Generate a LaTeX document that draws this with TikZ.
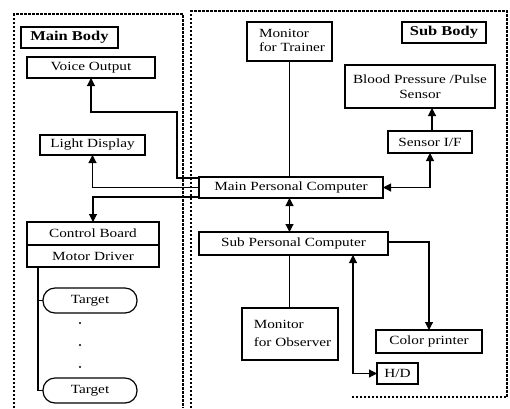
\documentclass[tikz,border=0pt]{standalone}
\usepackage{fontspec}
\setmainfont{Liberation Serif}[FakeStretch=1.22]
\usetikzlibrary{arrows.meta}
\begin{document}
\begin{tikzpicture}[x=1pt,y=-1pt,
  box/.style={draw,line width=1.2pt,inner sep=0pt,outer sep=0pt,anchor=north west,font=\fontsize{12.5}{15}\selectfont,align=center},
  title/.style={draw,line width=2pt,inner sep=0pt,outer sep=0pt,anchor=north west,font=\fontsize{13.5}{16}\selectfont\bfseries},
  tgt/.style={box,rounded corners=12pt},
  region/.style={line width=1.2pt,dash pattern=on 2.5pt off 1.5pt},
  conn/.style={line width=1.1pt},
  arr/.style={conn,-{Triangle[length=8pt,width=8pt]}},
  arrr/.style={conn,{Triangle[length=8pt,width=8pt]}-{Triangle[length=8pt,width=8pt]}},
  dot/.style={circle,fill,inner sep=0pt,minimum size=2.2pt}]
\useasboundingbox (0,0) rectangle (510,408);
% regions
\draw[region] (14,408) -- (14,14) -- (183,14) -- (183,408);
\draw[region] (191,408) -- (191,11) -- (507,11) -- (507,397) -- (350,397);
% Main body
\node[title,minimum width=97,minimum height=21] (mb) at (21,27) {Main Body};
\node[box,minimum width=128,minimum height=21] (vo) at (27,57) {Voice Output};
\node[box,minimum width=105,minimum height=20] (ld) at (40,135) {Light Display};
\node[box,minimum width=132,minimum height=23] (cb) at (27,222) {Control Board};
\node[box,minimum width=132,minimum height=22] (md) at (27,245) {Motor Driver};
\node[tgt,minimum width=94,minimum height=25] (t1) at (43,288) {Target};
\node[tgt,minimum width=94,minimum height=25] (t2) at (43,378) {Target};
\node[dot] (d1) at (80,323) {};
\node[dot] (d2) at (80,345) {};
\node[dot] (d3) at (80,367) {};
% Sub body
\node[title,minimum width=84,minimum height=21] (sb) at (402,22) {Sub Body};
\node[box,minimum width=85,minimum height=39] (mt) at (247,22) {\hspace*{5pt}\begin{tabular}{@{}l@{}}Monitor\\[-1pt]for Trainer\end{tabular}\hspace*{\fill}};
\node[box,minimum width=150,minimum height=43] (bp) at (345,65) {Blood Pressure /Pulse\\Sensor};
\node[box,minimum width=84,minimum height=22] (sif) at (388,131) {Sensor I/F};
\node[box,minimum width=184,minimum height=21] (mpc) at (199,177) {Main Personal Computer};
\node[box,minimum width=189,minimum height=23] (spc) at (199,232) {Sub Personal Computer};
\node[box,minimum width=96,minimum height=52] (mo) at (242,308) {\hspace*{5pt}\begin{tabular}{@{}l@{}}Monitor\\[3pt]for Observer\end{tabular}\hspace*{\fill}};
\node[box,minimum width=106,minimum height=23] (cp) at (376,330) {Color printer};
\node[box,minimum width=41,minimum height=21] (hd) at (377,363) {H/D};
% connectors
\draw[arr] ([yshift=-1pt]mpc.north west) -| (177,112) -| (vo.south);
\draw[arr] (mpc.west) -| (ld.south);
\draw[arr] ([yshift=1pt]mpc.south west) -| (cb.north);
\draw[conn] ([xshift=11pt]md.south west) |- (t2.west);
\draw[conn] (t1.west) -- ++(-5,0);
\draw[conn] (mt.south) -- (mt.south |- mpc.north);
\draw[arrr] (mt.south |- mpc.south) -- (mt.south |- spc.north);
\draw[arrr] (mpc.east) -| (sif.south);
\draw[arr] (sif.north -| 432,0) -- (bp.south -| 432,0);
\draw[conn] (mt.south |- spc.south) -- (mt.south |- mo.north);
\draw[arrr] ([xshift=-35pt]spc.south east) |- (hd.west);
\draw[arr] ([yshift=1.5pt]spc.east) -| (cp.north);
\end{tikzpicture}
\end{document}
